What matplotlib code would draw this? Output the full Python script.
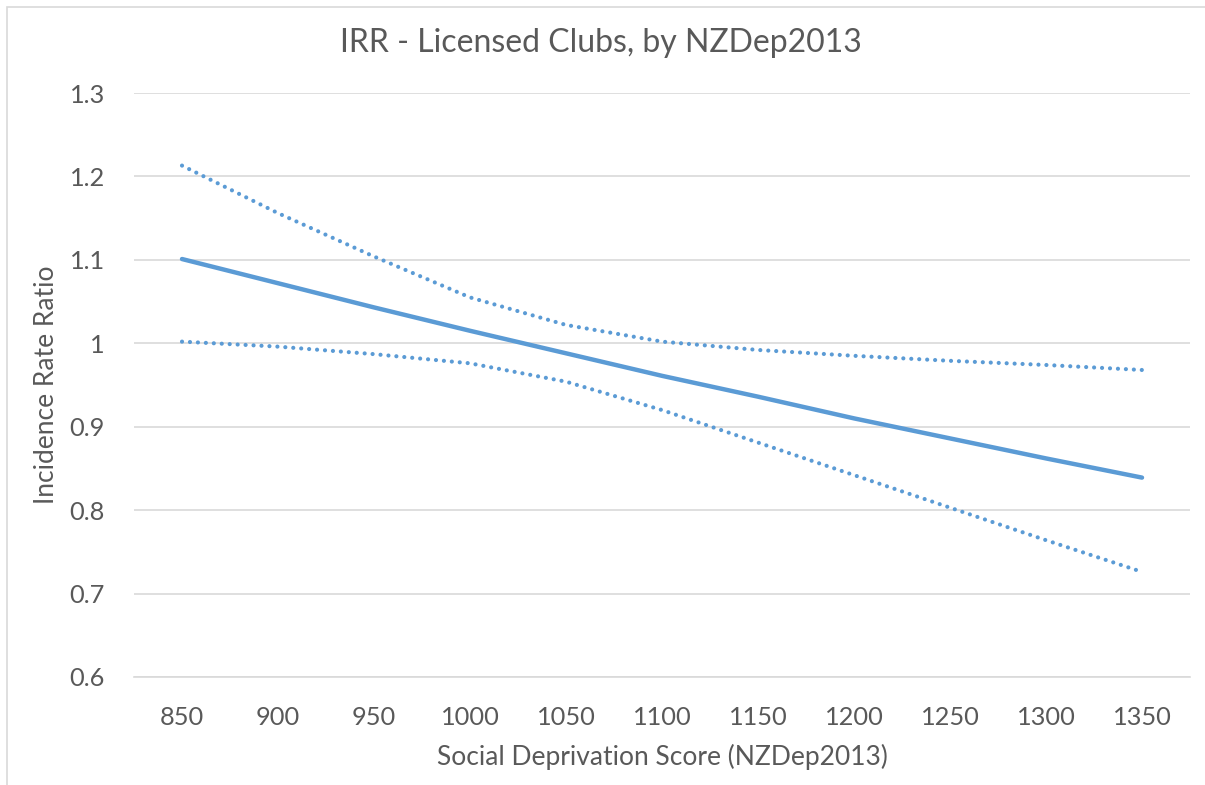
import numpy as np
import matplotlib
matplotlib.use("Agg")
import matplotlib.pyplot as plt
from matplotlib.patches import Rectangle

# ---------------------------------------------------------------------
# Data
# ---------------------------------------------------------------------
scores = [850, 900, 950, 1000, 1050, 1100, 1150, 1200, 1250, 1300, 1350]
irr = [1.101, 1.072, 1.043, 1.015, 0.988, 0.961, 0.936, 0.910, 0.886, 0.862, 0.839]
irr_upper = [1.213, 1.156, 1.104, 1.055, 1.022, 1.002, 0.992, 0.985, 0.979, 0.974, 0.968]
irr_lower = [1.002, 0.996, 0.987, 0.976, 0.954, 0.920, 0.881, 0.842, 0.803, 0.764, 0.726]
y_ticks = [0.6, 0.7, 0.8, 0.9, 1.0, 1.1, 1.2, 1.3]
y_tick_labels = ["0.6", "0.7", "0.8", "0.9", "1", "1.1", "1.2", "1.3"]

BLUE = "#5B9BD5"
TEXT = "#595959"
GRID = "#D9D9D9"

plt.rcParams["font.family"] = ["Lato", "DejaVu Sans"]

fig = plt.figure(figsize=(12.05, 7.85), dpi=100)
ax = fig.add_axes([134 / 1205, 1 - 677 / 785, 1056 / 1205, 584 / 785])

# chart border (only top and left edges are visible in the crop)
fig.patches.append(Rectangle((7 / 1205, -0.05), 1.2, 1.05 - 7 / 785,
                             transform=fig.transFigure, fill=False,
                             edgecolor=GRID, linewidth=1.2))

x = np.arange(len(scores))
ax.plot(x, irr, color=BLUE, linewidth=3.2, solid_capstyle="round", zorder=3)
for band in (irr_upper, irr_lower):
    ax.plot(x, band, color=BLUE, linewidth=3.0, linestyle=(0, (0.01, 1.9)),
            dash_capstyle="round", zorder=3)

ax.set_xlim(-0.5, len(scores) - 0.5)
ax.set_ylim(0.6, 1.3)
ax.set_xticks(x)
ax.set_xticklabels([str(s) for s in scores])
ax.set_yticks(y_ticks)
ax.set_yticklabels(y_tick_labels)

ax.grid(axis="y", color=GRID, linewidth=1.2)
ax.set_axisbelow(True)
for side in ("top", "right", "left"):
    ax.spines[side].set_visible(False)
ax.spines["bottom"].set_color(GRID)
ax.spines["bottom"].set_linewidth(1.2)

ax.tick_params(axis="both", length=0, labelsize=18.3, colors=TEXT)
ax.tick_params(axis="x", pad=21)
ax.tick_params(axis="y", pad=21)

ax.set_xlabel("Social Deprivation Score (NZDep2013)", fontsize=19, color=TEXT, va="center")
ax.set_ylabel("Incidence Rate Ratio", fontsize=19, color=TEXT, va="center")
ax.xaxis.set_label_coords(0.5, (677 - 757) / 584)
ax.yaxis.set_label_coords((47 - 134) / 1056, 0.5)
fig.text(601 / 1205, 1 - 43 / 785, "IRR - Licensed Clubs, by NZDep2013",
         ha="center", va="center", fontsize=23, color=TEXT)

fig.savefig("out.png", dpi=100)
